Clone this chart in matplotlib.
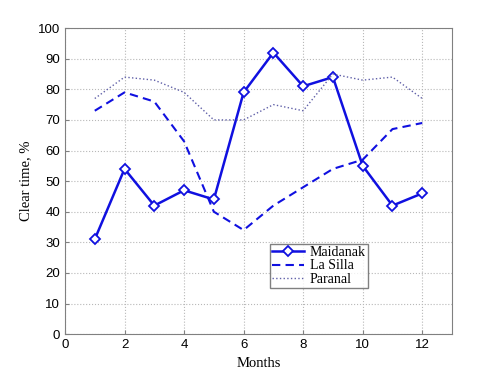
import matplotlib
matplotlib.use("Agg")
import matplotlib.pyplot as plt

months = [1, 2, 3, 4, 5, 6, 7, 8, 9, 10, 11, 12]
maidanak = [31, 54, 42, 47, 44, 79, 92, 81, 84, 55, 42, 46]
la_silla = [73, 79, 76, 63, 40, 34, 42, 48, 54, 57, 67, 69]
paranal = [77, 84, 83, 79, 70, 70, 75, 73, 85, 83, 84, 77]

fig = plt.figure(figsize=(5, 3.75), dpi=100)
ax = fig.add_axes([0.13, 0.109, 0.774, 0.816])

ax.plot(months, maidanak, color='#1010e0', lw=1.8, marker='D', markersize=5,
        markerfacecolor='white', markeredgecolor='#1010e0', markeredgewidth=1.3,
        label='Maidanak')
ax.plot(months, la_silla, color='#1010e0', lw=1.5, ls=(0, (4, 2.5)), label='La Silla')
ax.plot(months, paranal, color='#6060a8', lw=1.0, ls=':', label='Paranal')

ax.set_xlim(0, 13)
ax.set_ylim(0, 100)
ax.set_xticks(range(0, 13, 2))
ax.set_yticks(range(0, 101, 10))
ax.grid(True, color='#b8b8b8', ls=':', lw=0.8)
ax.tick_params(direction='in', length=3, labelsize=9.5, color='#808080')
for lab in ax.get_xticklabels() + ax.get_yticklabels():
    lab.set_family('Liberation Sans')
for s in ax.spines.values():
    s.set_color('#808080')

ax.set_xlabel('Months', family='Liberation Serif', fontsize=10.5)
ax.set_ylabel('Clear time, %', family='Liberation Serif', fontsize=10.5)

leg = ax.legend(loc='lower left', bbox_to_anchor=(0.53, 0.15), fancybox=False,
                prop={'family': 'Liberation Serif', 'size': 10}, borderpad=0.15,
                labelspacing=0.05, handlelength=2.3, handletextpad=0.4, borderaxespad=0)
leg.get_frame().set_edgecolor('#606060')
leg.get_frame().set_linewidth(1.0)

fig.savefig('out.png', dpi=100)
